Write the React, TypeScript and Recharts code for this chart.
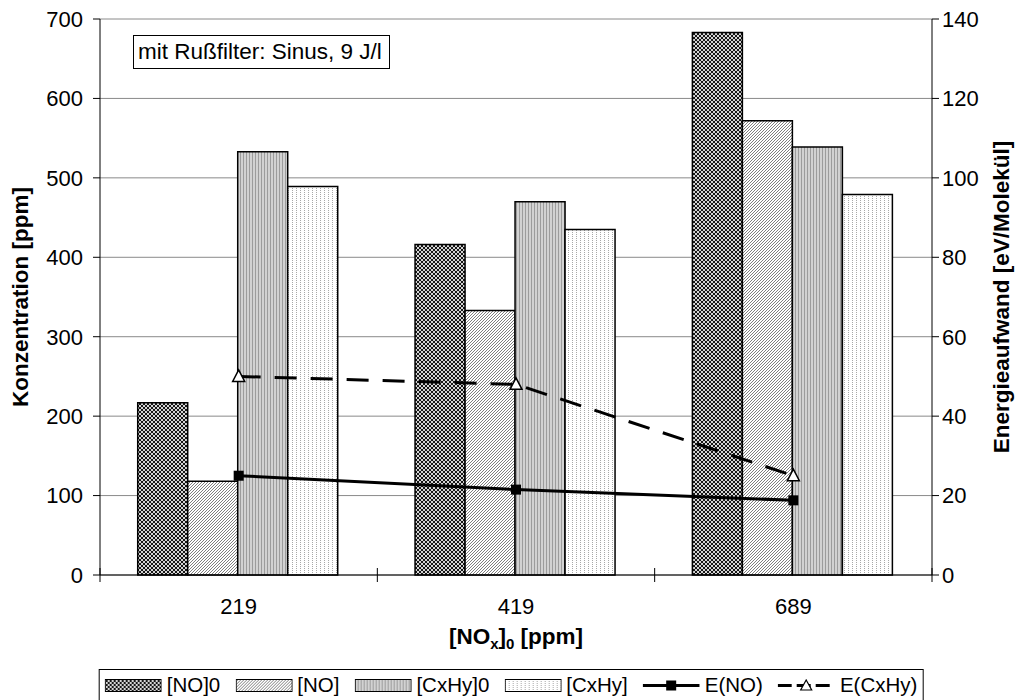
import React from 'react';
import { ComposedChart, Bar, Line, XAxis, YAxis, CartesianGrid } from 'recharts';

// ---- data ----
const categories = ['219', '419', '689'];
const no0Values = [217, 416, 683];
const noValues = [118, 333, 572];
const cxhy0Values = [533, 470, 539];
const cxhyValues = [489, 435, 479];
const eNoValues = [25, 21.5, 18.8];
const eCxhyValues = [50, 48, 25];
const leftTicks = [0, 100, 200, 300, 400, 500, 600, 700];
const rightTicks = [0, 20, 40, 60, 80, 100, 120, 140];

const data = categories.map((c, i) => ({
  cat: c,
  no0: no0Values[i],
  no: noValues[i],
  cxhy0: cxhy0Values[i],
  cxhy: cxhyValues[i],
  eNo: eNoValues[i],
  eCxhy: eCxhyValues[i],
}));

// ---- layout ----
const W = 1022;
const H = 700;
const LEFT_W = 100;
const RIGHT_W = 90;
const TOP = 19;
const XAXIS_H = 125;
const PLOT_W = W - LEFT_W - RIGHT_W;
const HALF_BAND = PLOT_W / categories.length / 2;
const FONT = '"Liberation Sans", Arial, Helvetica, sans-serif';
const TICK_FS = 22;
const TITLE_FS = 22.5;

const barSeries = [
  { key: 'no0', name: '[NO]0', fill: 'url(#pNO0)' },
  { key: 'no', name: '[NO]', fill: 'url(#pNO)' },
  { key: 'cxhy0', name: '[CxHy]0', fill: 'url(#pCX0)' },
  { key: 'cxhy', name: '[CxHy]', fill: 'url(#pCX)' },
];

const SquareDot = (props: any) => {
  const { cx, cy } = props;
  if (cx == null || cy == null) return null;
  return <rect x={cx - 5} y={cy - 5} width={10} height={10} fill="#000" />;
};

const TriangleDot = (props: any) => {
  const { cx, cy } = props;
  if (cx == null || cy == null) return null;
  return (
    <path
      d={`M${cx},${cy - 6.5} L${cx + 6},${cy + 5} L${cx - 6},${cy + 5} Z`}
      fill="#fff"
      stroke="#000"
      strokeWidth={1.5}
    />
  );
};

const XTick = (props: any) => {
  const { x, y, payload, index } = props;
  const n = categories.length;
  return (
    <g>
      <text x={x} y={y + 39} textAnchor="middle" fontSize={TICK_FS} fontFamily={FONT} fill="#000">
        {payload.value}
      </text>
      <line x1={x - HALF_BAND} x2={x - HALF_BAND} y1={y - 7} y2={y + 7} stroke="#000" strokeWidth={1} />
      {index === n - 1 && (
        <line x1={x + HALF_BAND} x2={x + HALF_BAND} y1={y - 7} y2={y + 7} stroke="#000" strokeWidth={1} />
      )}
    </g>
  );
};

const XLabel = (props: any) => {
  const { viewBox } = props;
  const cx = viewBox.x + viewBox.width / 2;
  const y = viewBox.y + 69;
  return (
    <text x={cx} y={y} textAnchor="middle" fontWeight="bold" fontSize={TITLE_FS} fontFamily={FONT} fill="#000">
      [NO
      <tspan fontSize={15} dy={5}>x</tspan>
      <tspan dy={-5}>]</tspan>
      <tspan fontSize={15} dy={5}>0</tspan>
      <tspan dy={-5}> [ppm]</tspan>
    </text>
  );
};

const LeftLabel = (props: any) => {
  const { viewBox } = props;
  const x = 20;
  const y = viewBox.y + viewBox.height / 2;
  return (
    <text
      x={x}
      y={y}
      transform={`rotate(-90 ${x} ${y})`}
      textAnchor="middle"
      dominantBaseline="central"
      fontWeight="bold"
      fontSize={TITLE_FS}
      fontFamily={FONT}
      fill="#000"
    >
      Konzentration [ppm]
    </text>
  );
};

const RightLabel = (props: any) => {
  const { viewBox } = props;
  const x = 1001;
  const y = viewBox.y + viewBox.height / 2;
  return (
    <text
      x={x}
      y={y}
      transform={`rotate(-90 ${x} ${y})`}
      textAnchor="middle"
      dominantBaseline="central"
      fontWeight="bold"
      fontSize={TITLE_FS}
      fontFamily={FONT}
      fill="#000"
    >
      Energieaufwand [eV/Molekül]
    </text>
  );
};

const Patterns = () => (
  <svg width={0} height={0} style={{ position: 'absolute', left: 0, top: 0 }}>
    <defs>
      <pattern id="pNO0" patternUnits="userSpaceOnUse" width={4} height={4}>
        <rect width={4} height={4} fill="#d4d4d4" />
        <path d="M0,0 L4,4 M4,0 L0,4" stroke="#000" strokeWidth={0.9} />
      </pattern>
      <pattern id="pNO" patternUnits="userSpaceOnUse" width={3} height={3}>
        <rect width={3} height={3} fill="#fff" />
        <path d="M0,3 L3,0 M-1,1 L1,-1 M2,4 L4,2" stroke="#707070" strokeWidth={0.9} />
      </pattern>
      <pattern id="pCX0" patternUnits="userSpaceOnUse" width={3} height={3}>
        <rect width={3} height={3} fill="#d2d2d2" />
        <rect x={0} y={0} width={1} height={3} fill="#9c9c9c" />
      </pattern>
      <pattern id="pCX" patternUnits="userSpaceOnUse" width={4} height={2}>
        <rect width={4} height={2} fill="#fff" />
        <rect x={0} y={0} width={1} height={1} fill="#a8a8a8" />
      </pattern>
    </defs>
  </svg>
);

const LegendBox = () => {
  const itemStyle: React.CSSProperties = { display: 'flex', alignItems: 'center', gap: 5 };
  return (
    <div
      style={{
        position: 'absolute',
        top: 669,
        left: '50%',
        transform: 'translateX(-50%)',
        border: '1px solid #000',
        background: '#fff',
        display: 'flex',
        alignItems: 'center',
        gap: 15,
        padding: '2px 5px',
        height: 26,
        fontFamily: FONT,
        fontSize: 20.5,
        whiteSpace: 'nowrap',
        color: '#000',
      }}
    >
      {barSeries.map((s) => (
        <div key={s.key} style={itemStyle}>
          <svg width={57} height={13}>
            <rect x={0.5} y={0.5} width={56} height={12} fill={s.fill} stroke="#000" strokeWidth={1} />
          </svg>
          <span>{s.name}</span>
        </div>
      ))}
      <div style={itemStyle}>
        <svg width={57} height={13}>
          <line x1={0} x2={57} y1={6.5} y2={6.5} stroke="#000" strokeWidth={3} />
          <rect x={23.5} y={1.5} width={10} height={10} fill="#000" />
        </svg>
        <span>E(NO)</span>
      </div>
      <div style={itemStyle}>
        <svg width={57} height={13}>
          <line x1={0} x2={57} y1={6.5} y2={6.5} stroke="#000" strokeWidth={3} strokeDasharray="14 5" />
          <path d="M28.5,1 L34,11 L23,11 Z" fill="#fff" stroke="#000" strokeWidth={1.2} />
        </svg>
        <span>E(CxHy)</span>
      </div>
    </div>
  );
};

export default function App() {
  return (
    <div style={{ position: 'absolute', left: 0, top: 0, width: W, height: H, background: '#fff' }}>
      <Patterns />
      <ComposedChart
        width={W}
        height={H}
        data={data}
        margin={{ top: TOP, right: 0, bottom: 0, left: 0 }}
        barCategoryGap="13.6%"
        barGap={0}
      >
        <CartesianGrid yAxisId="l" vertical={false} stroke="#8a8a8a" strokeWidth={1} />
        <XAxis
          dataKey="cat"
          height={XAXIS_H}
          axisLine={{ stroke: '#000', strokeWidth: 1 }}
          tickLine={false}
          tickSize={0}
          tickMargin={0}
          tick={<XTick />}
          interval={0}
          label={<XLabel />}
        />
        <YAxis
          yAxisId="l"
          orientation="left"
          width={LEFT_W}
          domain={[0, 700]}
          ticks={leftTicks}
          interval={0}
          axisLine={{ stroke: '#000', strokeWidth: 1 }}
          tickLine={{ stroke: '#000', strokeWidth: 1 }}
          tickSize={7}
          tickMargin={10}
          tick={{ fontSize: TICK_FS, fontFamily: FONT, fill: '#000' }}
          label={<LeftLabel />}
        />
        <YAxis
          yAxisId="r"
          orientation="right"
          width={RIGHT_W}
          domain={[0, 140]}
          ticks={rightTicks}
          interval={0}
          axisLine={{ stroke: '#000', strokeWidth: 1 }}
          tickLine={{ stroke: '#000', strokeWidth: 1 }}
          tickSize={7}
          tickMargin={3}
          tick={{ fontSize: TICK_FS, fontFamily: FONT, fill: '#000', textAnchor: 'start' }}
          label={<RightLabel />}
        />
        {barSeries.map((s) => (
          <Bar
            key={s.key}
            yAxisId="l"
            dataKey={s.key}
            name={s.name}
            fill={s.fill}
            stroke="#000"
            strokeWidth={1.5}
            isAnimationActive={false}
          />
        ))}
        <Line
          yAxisId="r"
          dataKey="eNo"
          name="E(NO)"
          stroke="#000"
          strokeWidth={3}
          dot={<SquareDot />}
          activeDot={false}
          isAnimationActive={false}
        />
        <Line
          yAxisId="r"
          dataKey="eCxhy"
          name="E(CxHy)"
          stroke="#000"
          strokeWidth={3}
          strokeDasharray="22 14"
          dot={<TriangleDot />}
          activeDot={false}
          isAnimationActive={false}
        />
      </ComposedChart>
      <div
        style={{
          position: 'absolute',
          left: 133,
          top: 35,
          width: 251,
          height: 32,
          border: '1px solid #000',
          background: '#fff',
          fontFamily: FONT,
          fontSize: 22.5,
          lineHeight: '32px',
          paddingLeft: 4,
          boxSizing: 'content-box',
          whiteSpace: 'nowrap',
          color: '#000',
        }}
      >
        mit Rußfilter: Sinus, 9 J/l
      </div>
      <LegendBox />
    </div>
  );
}
